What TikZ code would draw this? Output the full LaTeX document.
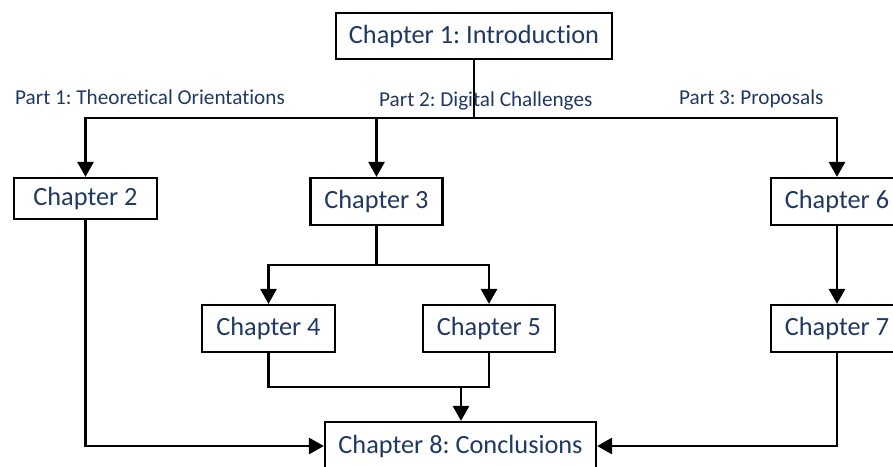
\documentclass[tikz,border=0pt]{standalone}
\usepackage{fontspec}
\setmainfont[Ligatures={NoCommon}]{Carlito}
\frenchspacing
\usetikzlibrary{arrows.meta}
\definecolor{chapblue}{HTML}{1F3864}
\begin{document}
\begin{tikzpicture}[x=1pt,y=1pt]
	\tikzstyle{chapter}=[rectangle,draw=black,line width=2.2pt,fill=white,text=chapblue,font=\fontsize{26.3}{30}\selectfont,inner sep=0pt,minimum height=47pt]
	\tikzstyle{part}=[text=chapblue,font=\fontsize{21.2}{25}\selectfont,inner sep=0pt,anchor=base west]
	\tikzstyle{edge}=[draw=black,line width=2.8pt,-{Triangle[length=15pt,width=16pt]}]
	\tikzstyle{link}=[draw=black,line width=2.8pt]
	\useasboundingbox (0,0) rectangle (893,466);
	\clip (0,0) rectangle (893,466);
	\begin{scope}

	  \node [chapter,minimum width=276pt,minimum height=46pt] (c1) at (474,430) {Chapter 1: Introduction};
	  \node [chapter,minimum width=143pt,minimum height=41pt] (c2) at (85.5,267.5) {Chapter 2};
	  \node [chapter,minimum width=132pt] (c3) at (376.5,264.5) {Chapter 3};
	  \node [chapter,minimum width=133pt] (c4) at (268.5,137.5) {Chapter 4};
	  \node [chapter,minimum width=132pt] (c5) at (489,137.5) {Chapter 5};
	  \node [chapter,minimum width=132pt] (c6) at (837,264.5) {Chapter 6};
	  \node [chapter,minimum width=132pt] (c7) at (837,137.5) {Chapter 7};
	  \node [chapter,minimum width=271pt,minimum height=48pt] (c8) at (460.5,20) {Chapter 8: Conclusions};

	  \coordinate (bus) at (474,348);
	  \coordinate (split) at (376.5,201);
	  \coordinate (merge) at (461,79);

		\path[link] (c1) -- (bus);
		\path[edge] (bus) -| (c2);
		\path[edge] (bus) -| (c3);
		\path[edge] (bus) -| (c6);
		\path[link] (c3) -- (split);
		\path[edge] (split) -| (c4);
		\path[edge] (split) -| (c5);
		\path[link] (c4) |- (merge);
		\path[link] (c5) |- (merge);
		\path[edge] (merge) -- (merge |- c8.north);
		\path[edge] (c2) |- (c8);
		\path[edge] (c6) -- (c7);
		\path[edge] (c7) |- (c8);

	  \node [part] (p1) at (15,361) {Part 1: Theoretical Orientations};
	  \node [part] (p2) at (379,359) {Part 2: Digital Challenges};
	  \node [part] (p3) at (679,361) {Part 3: Proposals};

	\end{scope}
\end{tikzpicture}
\end{document}
